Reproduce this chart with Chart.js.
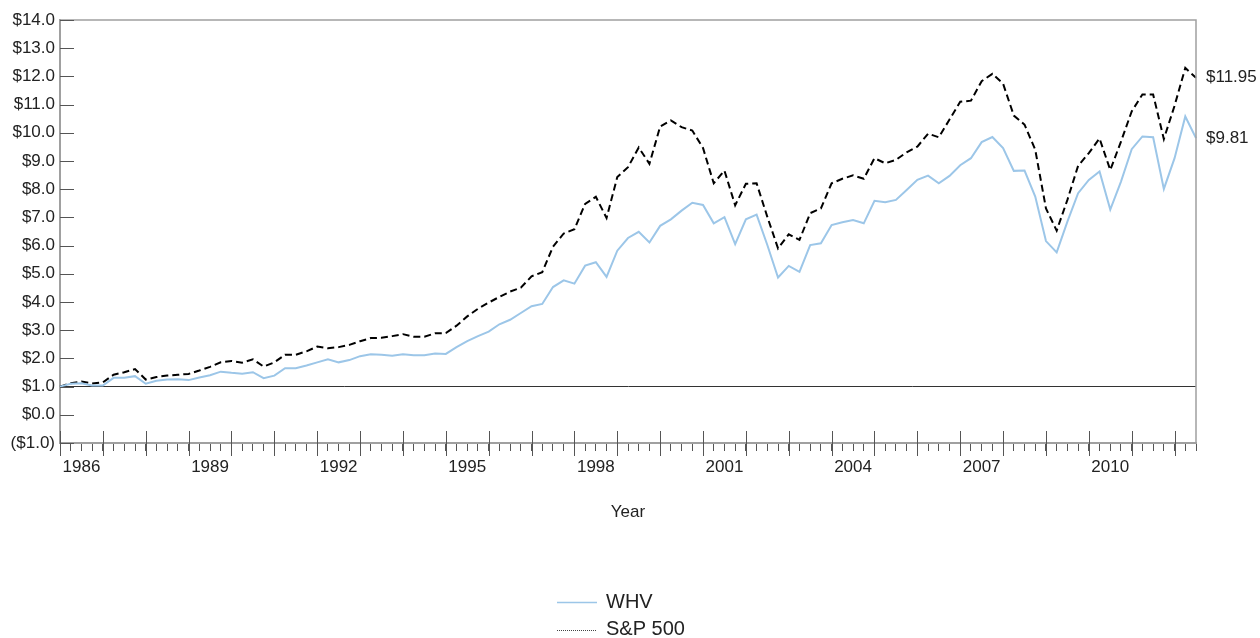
<!DOCTYPE html>
<html>
<head>
<meta charset="utf-8">
<script src="https://cdn.jsdelivr.net/npm/chart.js@4.4.1/dist/chart.umd.min.js"></script>
<style>
html, body { margin: 0; padding: 0; background: #fff; }
canvas { display: block; }
</style>
</head>
<body>
<canvas id="growth" width="1260" height="638"></canvas>
<script>
// growth of $1, quarterly, end of 1985 to mid 2012
const whv = [
	1.00, 1.10, 1.12, 1.04, 1.04, 1.31, 1.31, 1.37, 1.10, 1.21,
	1.25, 1.26, 1.23, 1.32, 1.40, 1.53, 1.49, 1.46, 1.51, 1.30,
	1.39, 1.65, 1.65, 1.75, 1.86, 1.97, 1.86, 1.94, 2.08, 2.15,
	2.13, 2.09, 2.15, 2.11, 2.11, 2.17, 2.16, 2.40, 2.61, 2.79,
	2.95, 3.21, 3.37, 3.61, 3.85, 3.93, 4.53, 4.77, 4.65, 5.29,
	5.41, 4.89, 5.82, 6.27, 6.49, 6.11, 6.70, 6.93, 7.24, 7.52,
	7.44, 6.79, 7.01, 6.05, 6.93, 7.10, 6.02, 4.87, 5.28, 5.07,
	6.02, 6.08, 6.73, 6.83, 6.91, 6.79, 7.59, 7.54, 7.62, 7.97,
	8.33, 8.48, 8.21, 8.47, 8.85, 9.10, 9.67, 9.85, 9.46, 8.65,
	8.66, 7.74, 6.16, 5.76, 6.85, 7.86, 8.33, 8.63, 7.28, 8.27,
	9.42, 9.87, 9.84, 8.01, 9.10, 10.58, 9.81
];
const sp500 = [
	1.00, 1.12, 1.18, 1.11, 1.15, 1.42, 1.51, 1.62, 1.25, 1.34,
	1.39, 1.42, 1.45, 1.57, 1.70, 1.86, 1.91, 1.85, 1.97, 1.71,
	1.86, 2.13, 2.13, 2.25, 2.42, 2.36, 2.40, 2.48, 2.61, 2.72,
	2.73, 2.79, 2.86, 2.77, 2.77, 2.89, 2.90, 3.16, 3.49, 3.76,
	3.98, 4.18, 4.37, 4.51, 4.91, 5.06, 5.96, 6.43, 6.58, 7.48,
	7.73, 6.98, 8.43, 8.78, 9.48, 8.90, 10.22, 10.44, 10.20, 10.08,
	9.46, 8.21, 8.66, 7.43, 8.19, 8.21, 7.02, 5.90, 6.40, 6.20,
	7.15, 7.32, 8.21, 8.37, 8.49, 8.37, 9.10, 8.92, 9.04, 9.31,
	9.51, 9.97, 9.84, 10.47, 11.10, 11.14, 11.83, 12.09, 11.74, 10.61,
	10.29, 9.40, 7.32, 6.53, 7.62, 8.83, 9.28, 9.80, 8.68, 9.69,
	10.76, 11.36, 11.36, 9.78, 10.96, 12.30, 11.95
];
const yearLabels = ['1986', '1989', '1992', '1995', '1998', '2001', '2004', '2007', '2010'];
const seriesNames = ['WHV', 'S&P 500'];
const endLabels = ['$9.81', '$11.95'];

const quarters = [];
for (let i = 0; i < whv.length; i++) {
	quarters.push((1985 + Math.floor((i + 3) / 4)) + ' Q' + ((i + 3) % 4 + 1));
}

const FONT = 'Liberation Sans, Arial, sans-serif';
const BLUE = '#9cc6e8';

function money(v) {
	return v < 0 ? '($' + Math.abs(v).toFixed(1) + ')' : '$' + v.toFixed(1);
}

const decorations = {
	id: 'decorations',
	afterDraw(chart) {
		const ctx = chart.ctx;
		const a = chart.chartArea;
		const xs = chart.scales.x, ys = chart.scales.y;
		ctx.save();

		// top and right frame
		ctx.strokeStyle = '#a0a0a0';
		ctx.lineWidth = 1.5;
		ctx.beginPath();
		ctx.moveTo(a.left, a.top);
		ctx.lineTo(a.right, a.top);
		ctx.lineTo(a.right, a.bottom);
		ctx.stroke();

		// y ticks pointing inward
		ctx.strokeStyle = '#555';
		ctx.lineWidth = 1;
		ctx.beginPath();
		for (let v = -1; v <= 14; v++) {
			const y = Math.round(ys.getPixelForValue(v)) + 0.5;
			ctx.moveTo(a.left, y);
			ctx.lineTo(a.left + 14, y);
		}
		ctx.stroke();

		// yearly ticks across the x axis
		ctx.beginPath();
		for (let i = 0; i < quarters.length; i += 4) {
			const x = Math.round(xs.getPixelForValue(i)) + 0.5;
			ctx.moveTo(x, a.bottom - 12);
			ctx.lineTo(x, a.bottom + 13);
		}
		ctx.stroke();

		// end values
		ctx.fillStyle = '#222';
		ctx.font = '17px ' + FONT;
		ctx.textAlign = 'left';
		ctx.textBaseline = 'middle';
		const last = quarters.length - 1;
		ctx.fillText(endLabels[0], a.right + 10, ys.getPixelForValue(whv[last]));
		ctx.fillText(endLabels[1], a.right + 10, ys.getPixelForValue(sp500[last]));

		// legend
		ctx.font = '20px ' + FONT;
		ctx.strokeStyle = BLUE;
		ctx.lineWidth = 1.5;
		ctx.beginPath();
		ctx.moveTo(557, 602.5);
		ctx.lineTo(597, 602.5);
		ctx.stroke();
		ctx.fillText(seriesNames[0], 606, 602);
		ctx.strokeStyle = '#444';
		ctx.lineWidth = 1;
		ctx.setLineDash([1, 1]);
		ctx.beginPath();
		ctx.moveTo(557, 630.5);
		ctx.lineTo(597, 630.5);
		ctx.stroke();
		ctx.setLineDash([]);
		ctx.fillText(seriesNames[1], 606, 629);
		ctx.restore();
	}
};

new Chart(document.getElementById('growth'), {
	type: 'line',
	data: {
		labels: quarters,
		datasets: [
			{ label: seriesNames[0], data: whv, borderColor: BLUE, borderWidth: 2 },
			{ label: seriesNames[1], data: sp500, borderColor: '#000', borderWidth: 2, borderDash: [7, 4] }
		]
	},
	options: {
		responsive: false,
		animation: false,
		devicePixelRatio: 1,
		layout: { padding: { top: 20, right: 64, bottom: 105, left: 0 } },
		elements: { point: { radius: 0 }, line: { tension: 0 } },
		plugins: { legend: { display: false }, tooltip: { enabled: false } },
		scales: {
			x: {
				type: 'category',
				offset: false,
				afterFit: s => { s.height = 90; },
				border: { display: true, color: '#a0a0a0', width: 2 },
				grid: { drawOnChartArea: false, drawTicks: true, tickLength: 8, color: '#555', lineWidth: 1 },
				ticks: {
					autoSkip: false,
					maxRotation: 0,
					padding: 6,
					color: '#222',
					font: { family: FONT, size: 17 },
					callback: (v, i) => (i % 12 === 2 ? yearLabels[(i - 2) / 12] : '')
				},
				title: { display: true, text: 'Year', color: '#222', font: { family: FONT, size: 17 }, padding: { top: 0, bottom: 10 } }
			},
			y: {
				min: -1,
				max: 14,
				afterFit: s => { s.width = 60; },
				border: { display: true, color: '#a0a0a0', width: 2 },
				grid: { drawTicks: false, color: c => (c.tick && c.tick.value === 1 ? '#333' : 'rgba(0,0,0,0)'), lineWidth: 1 },
				ticks: {
					stepSize: 1,
					padding: 5,
					color: '#222',
					font: { family: FONT, size: 17 },
					callback: v => money(v)
				}
			}
		}
	},
	plugins: [decorations]
});
</script>
</body>
</html>
